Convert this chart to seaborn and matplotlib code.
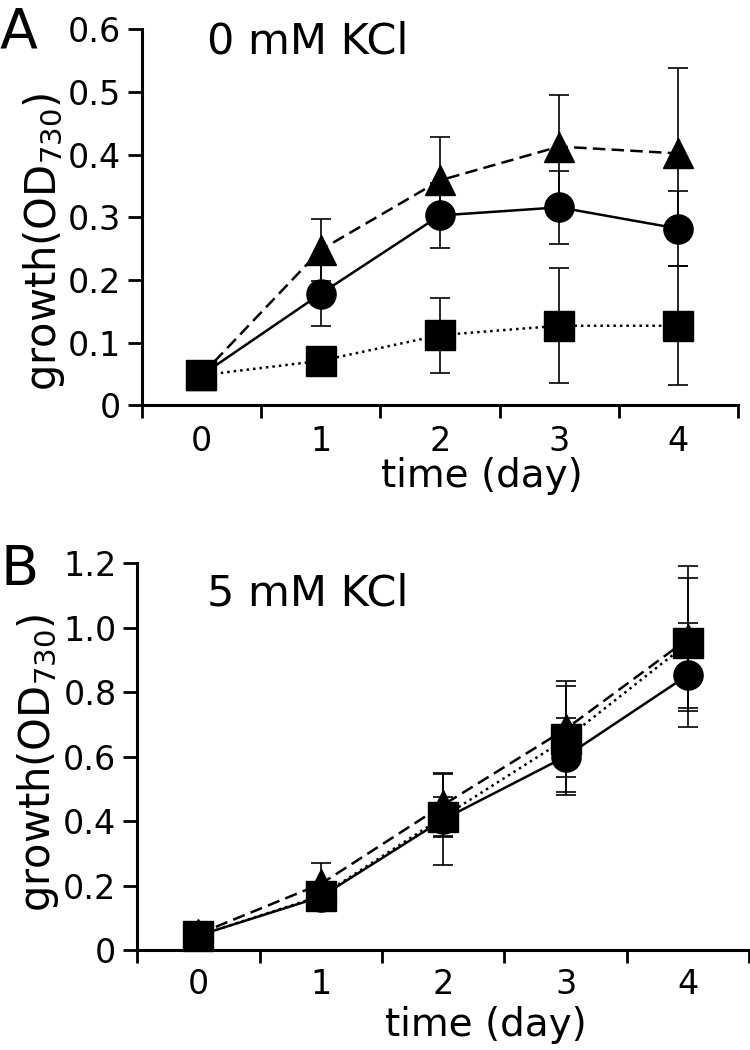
import matplotlib
matplotlib.use("Agg")
import matplotlib.pyplot as plt
import seaborn as sns
import pandas as pd
import numpy as np

# ---------------- data ----------------
days = [0, 1, 2, 3, 4]
series_names = ["circle", "triangle", "square"]

a_circle = [0.048, 0.178, 0.303, 0.316, 0.282]
a_circle_err = [0.005, 0.052, 0.052, 0.058, 0.060]
a_triangle = [0.048, 0.248, 0.359, 0.413, 0.402]
a_triangle_err = [0.005, 0.050, 0.070, 0.082, 0.137]
a_square = [0.048, 0.071, 0.112, 0.127, 0.127]
a_square_err = [0.005, 0.010, 0.060, 0.092, 0.095]

b_circle = [0.045, 0.165, 0.405, 0.600, 0.853]
b_circle_err = [0.010, 0.020, 0.140, 0.120, 0.160]
b_triangle = [0.050, 0.205, 0.450, 0.685, 0.965]
b_triangle_err = [0.010, 0.065, 0.100, 0.150, 0.225]
b_square = [0.045, 0.168, 0.413, 0.654, 0.952]
b_square_err = [0.010, 0.020, 0.060, 0.165, 0.200]

a_yticks = [0, 0.1, 0.2, 0.3, 0.4, 0.5, 0.6]
a_yticklabels = ["0", "0.1", "0.2", "0.3", "0.4", "0.5", "0.6"]
b_yticks = [0, 0.2, 0.4, 0.6, 0.8, 1.0, 1.2]
b_yticklabels = ["0", "0.2", "0.4", "0.6", "0.8", "1.0", "1.2"]
xticklabels = ["0", "1", "2", "3", "4"]

titles = ["0 mM KCl", "5 mM KCl"]
panel_letters = ["A", "B"]

# ---------------- style ----------------
sns.set_theme(style="ticks")
plt.rcParams["font.family"] = ["DejaVu Sans"]
plt.rcParams["mathtext.default"] = "regular"
plt.rcParams["text.color"] = "black"
plt.rcParams["axes.labelcolor"] = "black"
plt.rcParams["xtick.color"] = "black"
plt.rcParams["ytick.color"] = "black"

markers = {"circle": "o", "triangle": "^", "square": "s"}
dashes = {"circle": "", "triangle": (5, 2.5), "square": (1, 1.6)}


def make_df(c, t, s):
    rows = []
    for name, vals in zip(series_names, [c, t, s]):
        for d, v in zip(days, vals):
            rows.append({"day": d, "od": v, "series": name})
    return pd.DataFrame(rows)


fig = plt.figure(figsize=(7.5, 10.5), dpi=100)
axA = fig.add_axes([0.189, 0.614, 0.795, 0.358])
axB = fig.add_axes([0.183, 0.0952, 0.816, 0.3686])

panels = [
    dict(ax=axA, df=make_df(a_circle, a_triangle, a_square),
         errs=[(a_circle, a_circle_err), (a_triangle, a_triangle_err), (a_square, a_square_err)],
         yt=a_yticks, ytl=a_yticklabels, ylim=(0, 0.6),
         title_xy=(0.109, 0.936), ylab_y=0.434, xlab_y=-0.137, xpad=14),
    dict(ax=axB, df=make_df(b_circle, b_triangle, b_square),
         errs=[(b_circle, b_circle_err), (b_triangle, b_triangle_err), (b_square, b_square_err)],
         yt=b_yticks, ytl=b_yticklabels, ylim=(0, 1.2),
         title_xy=(0.114, 0.891), ylab_y=0.484, xlab_y=-0.145, xpad=13),
]

for i, p in enumerate(panels):
    ax = p["ax"]
    # error bars
    for vals, err in p["errs"]:
        ax.errorbar(days, vals, yerr=err, fmt="none", ecolor="black",
                    elinewidth=1.2, capsize=7.5, capthick=1.2, zorder=2,
                    clip_on=False)
    sns.lineplot(data=p["df"], x="day", y="od", style="series", markers=markers,
                 dashes=dashes, color="black", linewidth=1.8, markersize=21,
                 markeredgecolor="black", markeredgewidth=1,
                 legend=False, ax=ax, zorder=3, clip_on=False)

    ax.set_xlim(-0.5, 4.5)
    ax.set_ylim(*p["ylim"])
    sns.despine(ax=ax)
    for sp in ["left", "bottom"]:
        ax.spines[sp].set_linewidth(2.2)
        ax.spines[sp].set_color("black")

    ax.set_xticks(days)
    ax.set_xticklabels(xticklabels)
    ax.set_xticks(np.arange(-0.5, 4.6, 1.0), minor=True)
    ax.tick_params(axis="x", which="major", length=0, pad=p["xpad"], labelsize=24)
    ax.tick_params(axis="x", which="minor", length=9.5, width=2.0,
                   direction="out")
    ax.set_yticks(p["yt"])
    ax.set_yticklabels(p["ytl"])
    ax.tick_params(axis="y", which="major", length=10, width=2.0, pad=5,
                   labelsize=24)
    ax.tick_params(axis="y", which="minor", length=0)

    ax.set_xlabel("time (day)", fontsize=28)
    ax.xaxis.set_label_coords(0.57, p["xlab_y"])
    ax.set_ylabel("growth(OD$_{730}$)", fontsize=30)
    ax.yaxis.set_label_coords(-0.125, p["ylab_y"])

    ax.text(p["title_xy"][0], p["title_xy"][1], titles[i], transform=ax.transAxes,
            fontsize=31, ha="left", va="baseline")
    ax.set_facecolor("white")

fig.text(0.0, 0.955, panel_letters[0], fontsize=40, ha="left", va="baseline")
fig.text(0.0, 0.443, panel_letters[1], fontsize=40, ha="left", va="baseline")

fig.savefig("out.png", dpi=100, facecolor="white")
